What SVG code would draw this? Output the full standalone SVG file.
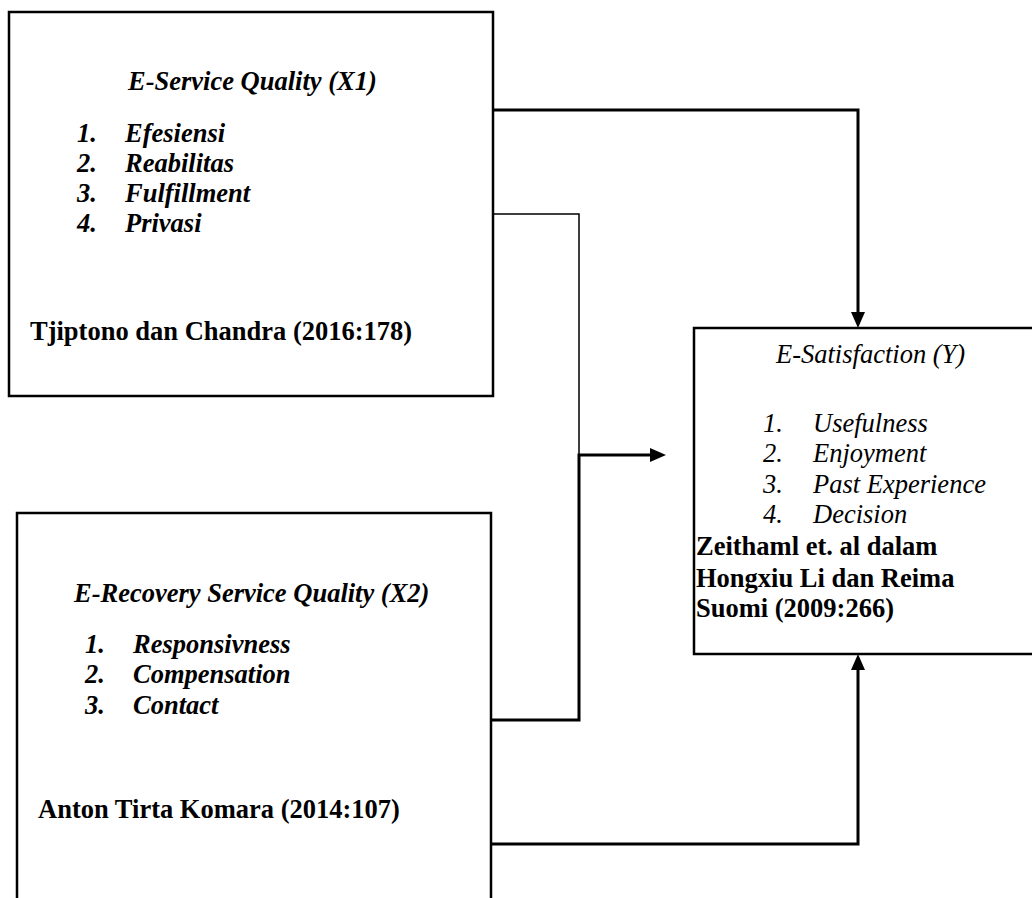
<svg xmlns="http://www.w3.org/2000/svg" width="1032" height="898" viewBox="0 0 1032 898">
<defs>
<marker id="ah" viewBox="0 0 16 14" refX="8" refY="7" markerWidth="16" markerHeight="14" markerUnits="userSpaceOnUse" orient="auto">
<path d="M0,0 L16,7 L0,14 Z" fill="#000"/>
</marker>
<style>
.box{fill:#fff;stroke:#000;stroke-width:2.5}
.t{font-family:"Liberation Serif","Times New Roman",serif;font-size:26.5px;fill:#000}
.bi{font-weight:bold;font-style:italic}
.b{font-weight:bold}
.i{font-style:italic}
.c{fill:none;stroke:#000;stroke-width:3}
.thin{fill:none;stroke:#000;stroke-width:1.5}
</style>
</defs>
<rect width="1032" height="898" fill="#fff"/>
<g id="connectors">
<polyline class="c" points="493,110 858,110 858,320" marker-end="url(#ah)"/>
<polyline class="thin" points="493,214 579,214 579,455"/>
<polyline class="c" points="491,720 579,720 579,455 658,455" marker-end="url(#ah)"/>
<polyline class="c" points="491,844 858,844 858,662" marker-end="url(#ah)"/>
</g>
<g id="x1">
<rect class="box" x="9" y="12" width="484" height="384"/>
<text class="t bi" x="128" y="90">E-Service Quality (X1)</text>
<text class="t bi" x="77" y="142">1.</text><text class="t bi" x="125" y="142">Efesiensi</text>
<text class="t bi" x="77" y="172">2.</text><text class="t bi" x="125" y="172">Reabilitas</text>
<text class="t bi" x="77" y="202">3.</text><text class="t bi" x="125" y="202">Fulfillment</text>
<text class="t bi" x="77" y="232">4.</text><text class="t bi" x="125" y="232">Privasi</text>
<text class="t b" x="30" y="340">Tjiptono dan Chandra (2016:178)</text>
</g>
<g id="x2">
<rect class="box" x="17" y="513" width="474" height="420"/>
<text class="t bi" x="74" y="602">E-Recovery Service Quality (X2)</text>
<text class="t bi" x="85" y="653">1.</text><text class="t bi" x="133" y="653">Responsivness</text>
<text class="t bi" x="85" y="683">2.</text><text class="t bi" x="133" y="683">Compensation</text>
<text class="t bi" x="85" y="714">3.</text><text class="t bi" x="133" y="714">Contact</text>
<text class="t b" x="38" y="818">Anton Tirta Komara (2014:107)</text>
</g>
<g id="y">
<rect class="box" x="694" y="328" width="360" height="326"/>
<text class="t i" x="776" y="363">E-Satisfaction (Y)</text>
<text class="t i" x="763" y="432">1.</text><text class="t i" x="813" y="432">Usefulness</text>
<text class="t i" x="763" y="462">2.</text><text class="t i" x="813" y="462">Enjoyment</text>
<text class="t i" x="763" y="493">3.</text><text class="t i" x="813" y="493">Past Experience</text>
<text class="t i" x="763" y="523">4.</text><text class="t i" x="813" y="523">Decision</text>
<text class="t b" x="696" y="555">Zeithaml et. al dalam</text>
<text class="t b" x="696" y="587">Hongxiu Li dan Reima</text>
<text class="t b" x="696" y="617">Suomi (2009:266)</text>
</g>
</svg>
